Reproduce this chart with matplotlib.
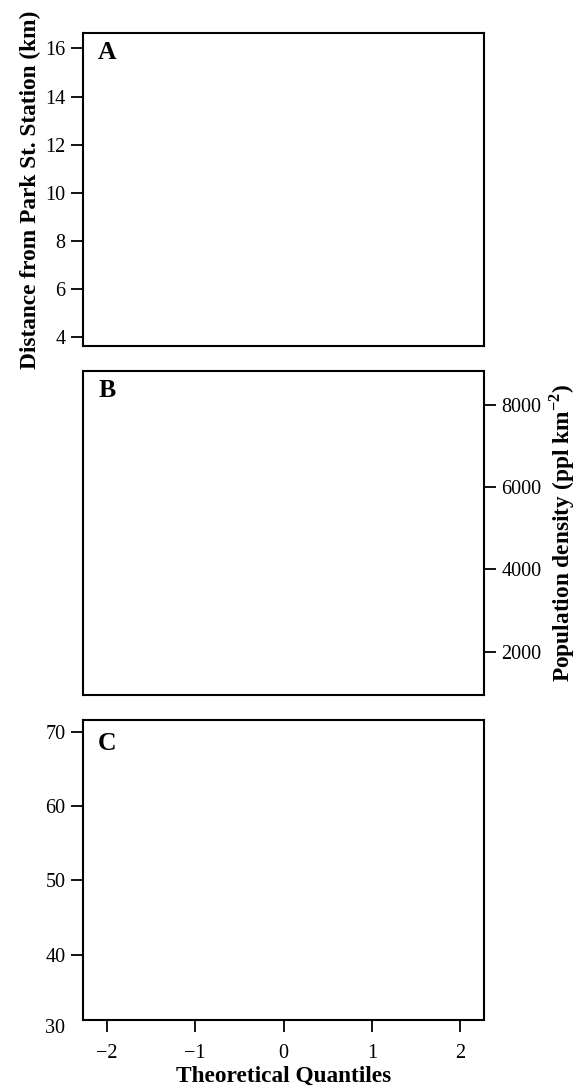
import matplotlib
matplotlib.use('Agg')
import matplotlib.pyplot as plt
import matplotlib.transforms as mtransforms

# axis settings
panel_labels = ['A', 'B', 'C']
x_ticks = [-2, -1, 0, 1, 2]
x_lim = (-2.27, 2.27)

dist_ticks = [4, 6, 8, 10, 12, 14, 16]
dist_lim = (3.64, 16.64)

dens_ticks = [2000, 4000, 6000, 8000]
dens_lim = (950, 8815)

isa_ticks = [40, 50, 60, 70]
isa_extra_label = 30
isa_lim = (31.2, 71.6)

plt.rcParams['font.family'] = ['Liberation Serif', 'DejaVu Serif']
plt.rcParams['mathtext.fontset'] = 'custom'
plt.rcParams['mathtext.rm'] = 'Liberation Serif'
plt.rcParams['mathtext.bf'] = 'Liberation Serif:bold'

W, H = 579, 1090
fig = plt.figure(figsize=(W / 100, H / 100), dpi=100)

def box(l, t, r, b):
    return [l / W, 1 - b / H, (r - l) / W, (b - t) / H]

axA = fig.add_axes(box(83, 33, 484, 346))
axB = fig.add_axes(box(83, 371, 484, 695))
axC = fig.add_axes(box(83, 720, 484, 1020))

tick_fs = 14.5
label_fs = 16.8
for ax, lab, ly in zip([axA, axB, axC], panel_labels, [0.975, 0.975, 0.96]):
    for s in ax.spines.values():
        s.set_linewidth(1.5)
    ax.set_xlim(*x_lim)
    ax.tick_params(direction='out', length=8.5, width=1.3, labelsize=tick_fs, pad=4)
    ax.text(0.038, ly, lab, transform=ax.transAxes, ha='left', va='top',
            fontsize=18.5, fontweight='bold')

# panel A
axA.set_ylim(*dist_lim)
axA.set_yticks(dist_ticks)
axA.set_xticks([])
axA.set_ylabel('Distance from Park St. Station (km)', fontsize=label_fs,
               fontweight='bold', labelpad=3)

# panel B
axB.set_ylim(*dens_lim)
axB.set_yticks(dens_ticks)
axB.set_xticks([])
axB.yaxis.tick_right()
axB.yaxis.set_label_position('right')
axB.set_ylabel(r'Population density (ppl km$^{\mathbf{-2}}$)', fontsize=label_fs,
               fontweight='bold', labelpad=4)

# panel C
axC.set_ylim(*isa_lim)
axC.set_yticks(isa_ticks)
axC.set_xticks(x_ticks)
axC.tick_params(axis='x', pad=9)
axC.set_xlabel('Theoretical Quantiles', fontsize=label_fs, fontweight='bold', labelpad=2)
trans = mtransforms.blended_transform_factory(axC.transAxes, axC.transData)
axC.text(-0.044, isa_extra_label, str(isa_extra_label), transform=trans,
         ha='right', va='center', fontsize=tick_fs, clip_on=False)

fig.savefig('out.png', dpi=100)
